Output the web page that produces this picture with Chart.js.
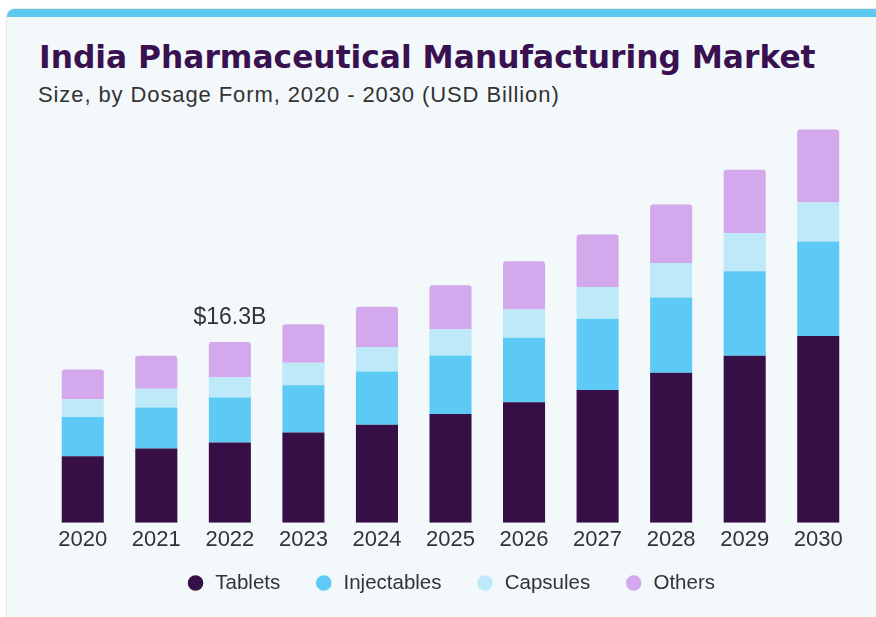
<!DOCTYPE html>
<html>
<head>
<meta charset="utf-8">
<script src="https://cdn.jsdelivr.net/npm/chart.js@4"></script>
<style>
  body { margin: 0; background: #fff; width: 876px; height: 617px; overflow: hidden; position: relative; }
  .card {
    position: absolute; left: 7px; top: 9px; width: 880px; height: 606px;
    background: #f3f8fb; border-top: 8px solid #5ec8f0; border-radius: 8px 0 0 0;
    box-shadow: 0 0 2px rgba(0,0,0,0.35);
  }
  h1 {
    position: absolute; left: 39px; top: 42px; margin: 0;
    font: bold 31.3px/31px "DejaVu Sans", sans-serif;
    color: #3a1150; white-space: nowrap;
  }
  .sub {
    position: absolute; left: 38px; top: 84px; margin: 0;
    font: 22px/22px "Liberation Sans", Arial, sans-serif; color: #333;
    letter-spacing: 0.9px; white-space: nowrap;
  }
  canvas { position: absolute; left: 0; top: 0; }
</style>
</head>
<body>
<div class="card"></div>
<h1>India Pharmaceutical Manufacturing Market</h1>
<p class="sub">Size, by Dosage Form, 2020 - 2030 (USD Billion)</p>
<canvas id="chart" width="876" height="617"></canvas>
<script>
const years = ["2020", "2021", "2022", "2023", "2024", "2025", "2026", "2027", "2028", "2029", "2030"];
const tablets = [6.0, 6.7, 7.24, 8.14, 8.83, 9.79, 10.85, 11.96, 13.51, 15.04, 16.82];
const injectables = [3.54, 3.69, 4.05, 4.26, 4.81, 5.29, 5.82, 6.42, 6.79, 7.63, 8.53];
const capsules = [1.59, 1.68, 1.83, 2.01, 2.19, 2.37, 2.56, 2.86, 3.12, 3.42, 3.51];
const others = [2.67, 2.97, 3.18, 3.49, 3.63, 3.96, 4.35, 4.75, 5.26, 5.74, 6.58];
const calloutIndex = 2;
const calloutText = "$16.3B";

// label over the 2022 bar
const callout = {
  id: "callout",
  afterDatasetsDraw(chart) {
    const { ctx, scales } = chart;
    const total = tablets[calloutIndex] + injectables[calloutIndex] + capsules[calloutIndex] + others[calloutIndex];
    ctx.save();
    ctx.font = "23px 'Liberation Sans', Arial, sans-serif";
    ctx.fillStyle = "#333";
    ctx.textAlign = "center";
    ctx.textBaseline = "alphabetic";
    ctx.fillText(calloutText, scales.x.getPixelForValue(calloutIndex), scales.y.getPixelForValue(total) - 18);
    ctx.restore();
  }
};

// legend sits closer to the axis labels than its padding allows
const legendShift = {
  id: "legendShift",
  afterLayout(chart) {
    chart.legend.top -= 15;
    chart.legend.bottom -= 15;
  }
};

const ctx = document.getElementById("chart").getContext("2d");
new Chart(ctx, {
  type: "bar",
  data: {
    labels: years,
    datasets: [
      { label: "Tablets", data: tablets, backgroundColor: "#370f47" },
      { label: "Injectables", data: injectables, backgroundColor: "#5ccaf5" },
      { label: "Capsules", data: capsules, backgroundColor: "#bde9f8" },
      { label: "Others", data: others, backgroundColor: "#d3a8ec",
        borderRadius: { topLeft: 3, topRight: 3 }, borderSkipped: "bottom" },
    ],
  },
  options: {
    responsive: false,
    animation: false,
    layout: { padding: { left: 46, right: 21, top: 79, bottom: -1.2 } },
    datasets: { bar: { barPercentage: 0.572, categoryPercentage: 1 } },
    scales: {
      x: {
        stacked: true,
        grid: { display: false, drawTicks: false },
        border: { display: false },
        ticks: { color: "#333", font: { size: 22, family: "'Liberation Sans', Arial, sans-serif" }, padding: 4 },
        afterFit(scale) { scale.height = 31; },
      },
      y: {
        stacked: true,
        display: false,
        min: 0,
        max: 40,
      },
    },
    plugins: {
      legend: {
        position: "bottom",
        labels: {
          usePointStyle: true,
          pointStyle: "circle",
          boxWidth: 19,
          boxHeight: 11,
          padding: 34,
          color: "#333",
          font: { size: 20.5, family: "'Liberation Sans', Arial, sans-serif" },
        },
      },
      tooltip: { enabled: false },
    },
  },
  plugins: [callout, legendShift],
});
</script>
</body>
</html>
